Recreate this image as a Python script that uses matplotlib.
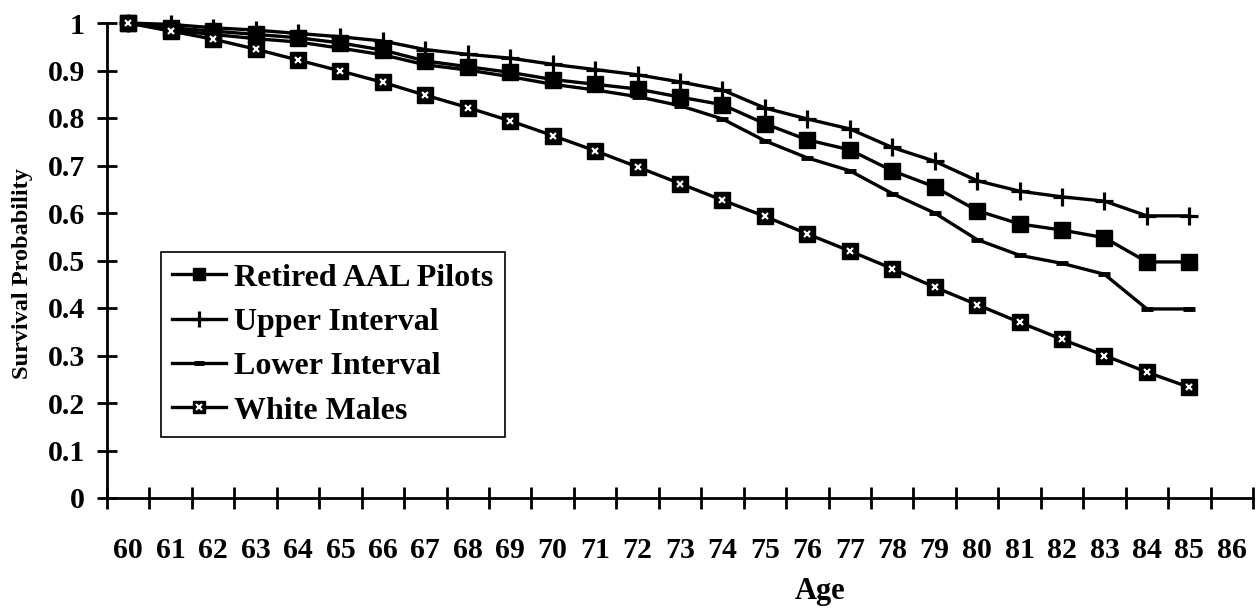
import matplotlib
matplotlib.use("Agg")
import matplotlib.pyplot as plt
import numpy as np
from matplotlib.ticker import FixedLocator, NullFormatter
from matplotlib.lines import Line2D
from matplotlib.legend_handler import HandlerTuple

plt.rcParams['font.family'] = ['Liberation Serif', 'DejaVu Serif']
plt.rcParams['font.weight'] = 'bold'

ages = list(range(60, 87))  # categories on the axis
data_ages = list(range(60, 86))

retired_pilots = [1.000, 0.990, 0.983, 0.976, 0.969, 0.958, 0.943, 0.920, 0.908, 0.896,
                  0.881, 0.871, 0.861, 0.844, 0.828, 0.788, 0.754, 0.733, 0.689, 0.655,
                  0.605, 0.577, 0.564, 0.548, 0.497, 0.497]
upper_interval = [1.000, 0.997, 0.990, 0.985, 0.978, 0.971, 0.962, 0.944, 0.934, 0.926,
                  0.913, 0.902, 0.891, 0.876, 0.859, 0.821, 0.798, 0.777, 0.738, 0.709,
                  0.668, 0.646, 0.634, 0.625, 0.594, 0.594]
lower_interval = [1.000, 0.985, 0.976, 0.967, 0.960, 0.947, 0.933, 0.912, 0.901, 0.887,
                  0.871, 0.859, 0.845, 0.826, 0.798, 0.752, 0.716, 0.689, 0.641, 0.600,
                  0.544, 0.511, 0.494, 0.471, 0.398, 0.398]
white_males = [1.000, 0.983, 0.966, 0.945, 0.922, 0.899, 0.875, 0.848, 0.822, 0.794,
               0.763, 0.731, 0.697, 0.662, 0.627, 0.593, 0.556, 0.520, 0.483, 0.444,
               0.407, 0.370, 0.334, 0.300, 0.265, 0.233]
series_labels = ['Retired AAL Pilots', 'Upper Interval', 'Lower Interval', 'White Males']

W, H = 1259, 610
fig = plt.figure(figsize=(W / 100, H / 100), dpi=100)
ax = fig.add_axes([107 / W, 1 - 498 / H, (1253 - 107) / W, (498 - 23) / H])

xpos = [ages.index(a) for a in data_ages]

lw = 2.4
l1, = ax.plot(xpos, retired_pilots, color='black', lw=lw, marker='s', ms=11,
              mfc='black', mec='black', clip_on=False, zorder=4)
l2, = ax.plot(xpos, upper_interval, color='black', lw=lw, marker='+', ms=13,
              mew=2.3, clip_on=False, zorder=3)
l3, = ax.plot(xpos, lower_interval, color='black', lw=lw, marker='_', ms=9,
              mew=3.5, clip_on=False, zorder=3)
l4, = ax.plot(xpos, white_males, color='black', lw=lw, marker='s', ms=11,
              mfc='black', mec='black', clip_on=False, zorder=4)
ax.plot(xpos, white_males, ls='none', marker='x', ms=4.5, mew=1.6, color='white',
        clip_on=False, zorder=5)

ax.set_xlim(-0.5, len(ages) - 0.5)
ax.set_ylim(0, 1)

ax.spines['top'].set_visible(False)
ax.spines['right'].set_visible(False)
ax.spines['left'].set_linewidth(2)
ax.spines['bottom'].set_linewidth(2)

# x: tick marks at category boundaries, labels at centers
ax.xaxis.set_major_locator(FixedLocator(np.arange(-0.5, len(ages), 1.0)))
ax.xaxis.set_major_formatter(NullFormatter())
ax.set_xticks(np.arange(len(ages)), minor=True)
ax.set_xticklabels([str(a) for a in ages], minor=True)
ax.tick_params(axis='x', which='major', direction='inout', length=16.5, width=2)
ax.tick_params(axis='x', which='minor', length=0, pad=28, labelsize=21.5)

yt = np.round(np.arange(0, 1.01, 0.1), 1)
ax.set_yticks(yt)
ax.set_yticklabels(['0' if v == 0 else ('1' if v == 1 else f'{v:.1f}') for v in yt])
ax.tick_params(axis='y', direction='inout', length=14, width=2, pad=9, labelsize=21.5)

for lab in ax.get_xticklabels(minor=True) + ax.get_yticklabels():
    lab.set_fontweight('bold')

fig.text(23 / W, 1 - 274 / H, 'Survival Probability', rotation=90, ha='center', va='center',
         fontsize=17.5, fontweight='bold')
fig.text(820 / W, 1 - 591 / H, 'Age', ha='center', va='center', fontsize=22, fontweight='bold')

wm_handle = (l4, Line2D([], [], ls='none', marker='x', ms=4.5, mew=1.6, color='white'))
leg = ax.legend([l1, l2, l3, wm_handle], series_labels,
                handler_map={tuple: HandlerTuple(ndivide=1, pad=0)},
                loc='upper left', bbox_to_anchor=(161 / W, 1 - 252 / H),
                bbox_transform=fig.transFigure, prop={'size': 23, 'weight': 'bold'},
                frameon=True, fancybox=False, edgecolor='black', framealpha=1,
                handlelength=1.7, handletextpad=0.25, labelspacing=0.47,
                borderpad=0.35, borderaxespad=0, markerscale=0.85)
leg.get_frame().set_linewidth(1.2)

fig.savefig('out.png', dpi=100)
